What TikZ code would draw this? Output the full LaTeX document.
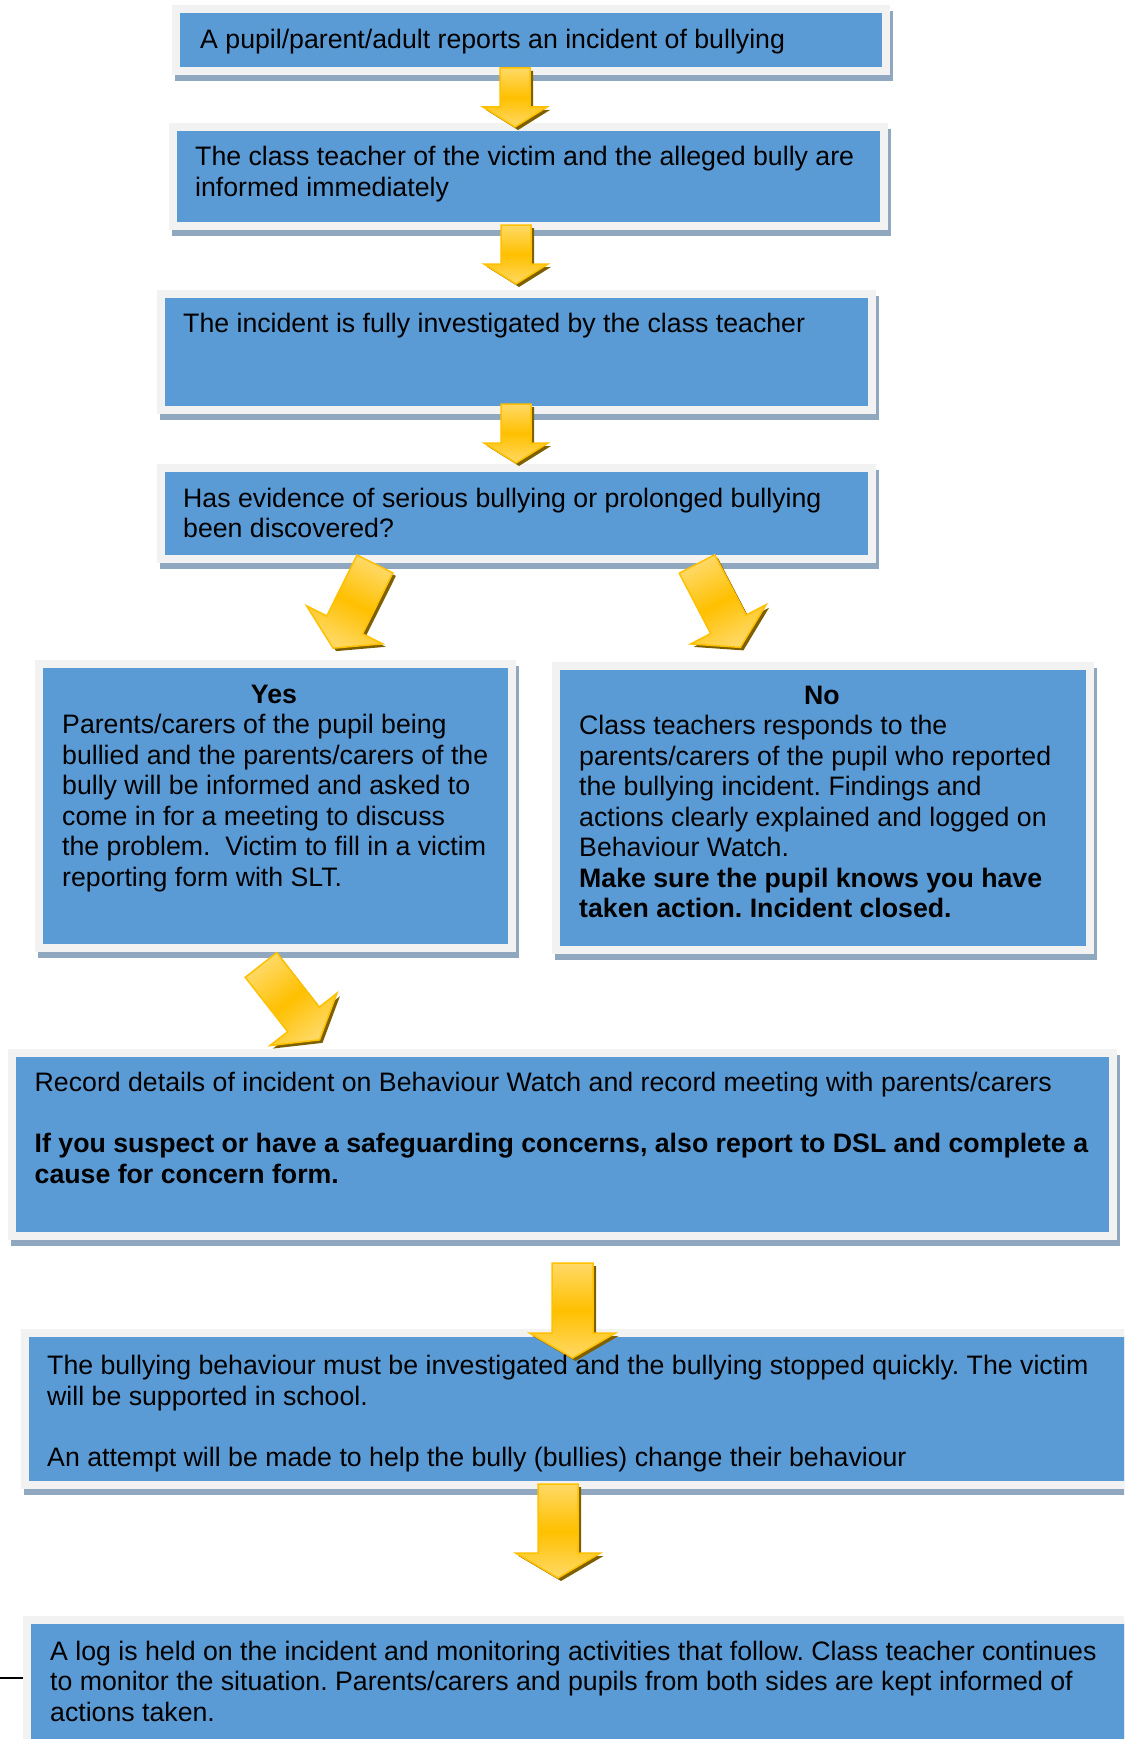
\documentclass[tikz,border=0pt]{standalone}
\usepackage{fontspec}
\setmainfont{Liberation Sans}
\frenchspacing
\definecolor{boxblue}{HTML}{5B9BD5}
\definecolor{framegray}{HTML}{F2F2F2}
\definecolor{shadowblue}{HTML}{8FA8C0}
\definecolor{arrgold}{HTML}{FFC000}
\definecolor{arrlight}{HTML}{FFD966}
\definecolor{arrshadow}{HTML}{7F6000}
\definecolor{arredge}{HTML}{FFC000}
\newcommand\flowbox[4]{%
  \fill[shadowblue] (#1+3,#2+6) rectangle (#3+3,#4+6);
  \fill[framegray] (#1,#2) rectangle (#3,#4);
  \fill[boxblue] (#1+8,#2+8) rectangle (#3-8,#4-8);}
\newcommand\blockarr[8]{% name x y angle w h s L
  \coordinate (#1) at (#2,#3);
  \begin{scope}[shift={(#2+3,#3+3)}, rotate=#4]
    \fill[arrshadow] (-#5,0) -- (#5,0) -- (#5,#7) -- (#6,#7) -- (0,#8) -- (-#6,#7) -- (-#5,#7) -- cycle;
  \end{scope}
  \begin{scope}[shift={(#2,#3)}, rotate=#4]
    \shadedraw[top color=arrlight, bottom color=arrlight, middle color=arrgold, shading angle=#4, draw=arredge, line width=1.5, line join=miter]
      (-#5,0) -- (#5,0) -- (#5,#7) -- (#6,#7) -- (0,#8) -- (-#6,#7) -- (-#5,#7) -- cycle;
  \end{scope}}
\newcommand\txtlines[1]{\vtop{\halign{##\hfil\cr#1\crcr}}}
\tikzset{txt/.style={inner sep=0pt, anchor=base west, font=\fontsize{26.7}{30.5}\selectfont\frenchspacing},
  ctxt/.style={inner sep=0pt, anchor=base, font=\fontsize{26.7}{30.5}\selectfont\bfseries}}
\begin{document}
\begin{tikzpicture}[x=1pt,y=-1pt]
\useasboundingbox (0,0) rectangle (1124,1739);
\clip (0,0) rectangle (1124,1739);
\fill[white] (0,0) rectangle (1124,1739);
% boxes
\flowbox{172}{5}{890}{75}
\flowbox{169}{123}{888}{230}
\flowbox{157}{290}{876}{414}
\flowbox{157}{464}{876}{563}
\flowbox{35}{660}{516}{952}
\flowbox{552}{662}{1094}{954}
\flowbox{8}{1049}{1117}{1240}
\flowbox{21}{1329}{1140}{1489}
\flowbox{23}{1616}{1140}{1760}
% arrows
\blockarr{a1}{515}{68}{0}{15}{32}{39}{59}
\blockarr{a2}{516}{225}{0}{15}{32}{39}{59}
\blockarr{a3}{516}{404}{0}{15}{32}{39}{59}
\blockarr{ayes}{375}{564}{-26.5}{20}{42.5}{68}{94}
\blockarr{ano}{697}{564}{27.5}{20}{42.5}{68}{94}
\blockarr{arec}{261}{965}{38}{20}{42.5}{69}{95}
\blockarr{a4}{572.5}{1263}{0}{20.5}{43}{70}{95}
\blockarr{a5}{558}{1484}{0}{20}{42.5}{69}{94}
% side line
\coordinate (sl1) at (0,1678);
\coordinate (sl2) at (23,1678);
\draw[line width=1.5] (sl1) -- (sl2);
% texts
\node[txt] (t1) at (200,49) {\txtlines{A pupil/parent/adult reports an incident of bullying}};
\node[txt] (t2) at (195,166) {\txtlines{The class teacher of the victim and the alleged bully are\cr informed immediately}};
\node[txt] (t3) at (183,332) {\txtlines{The incident is fully investigated by the class teacher}};
\node[txt] (t4) at (183,507) {\txtlines{Has evidence of serious bullying or prolonged bullying\cr been discovered?}};
\node[ctxt] (yeshead) at (274,703) {Yes};
\node[txt] (t5) at (62,733.5) {\txtlines{Parents/carers of the pupil being\cr bullied and the parents/carers of the\cr bully will be informed and asked to\cr come in for a meeting to discuss\cr the problem.\ \ Victim to fill in a victim\cr reporting form with SLT.}};
\node[ctxt] (nohead) at (822,704) {No};
\node[txt] (t6) at (579,734.5) {\txtlines{Class teachers responds to the\cr parents/carers of the pupil who reported\cr the bullying incident. Findings and\cr actions clearly explained and logged on\cr Behaviour Watch.\cr \bfseries Make sure the pupil knows you have\cr \bfseries taken action. Incident closed.}};
\node[txt] (t7) at (34.5,1091.5) {\txtlines{Record details of incident on Behaviour Watch and record meeting with parents/carers\cr \mbox{}\cr \bfseries If you suspect or have a safeguarding concerns, also report to DSL and complete a\cr \bfseries cause for concern form.}};
\node[txt] (t8) at (47,1374.5) {\txtlines{The bullying behaviour must be investigated and the bullying stopped quickly. The victim\cr will be supported in school.\cr \mbox{}\cr An attempt will be made to help the bully (bullies) change their behaviour}};
\node[txt] (t9) at (50,1660) {\txtlines{A log is held on the incident and monitoring activities that follow. Class teacher continues\cr to monitor the situation. Parents/carers and pupils from both sides are kept informed of\cr actions taken.}};
\end{tikzpicture}
\end{document}
